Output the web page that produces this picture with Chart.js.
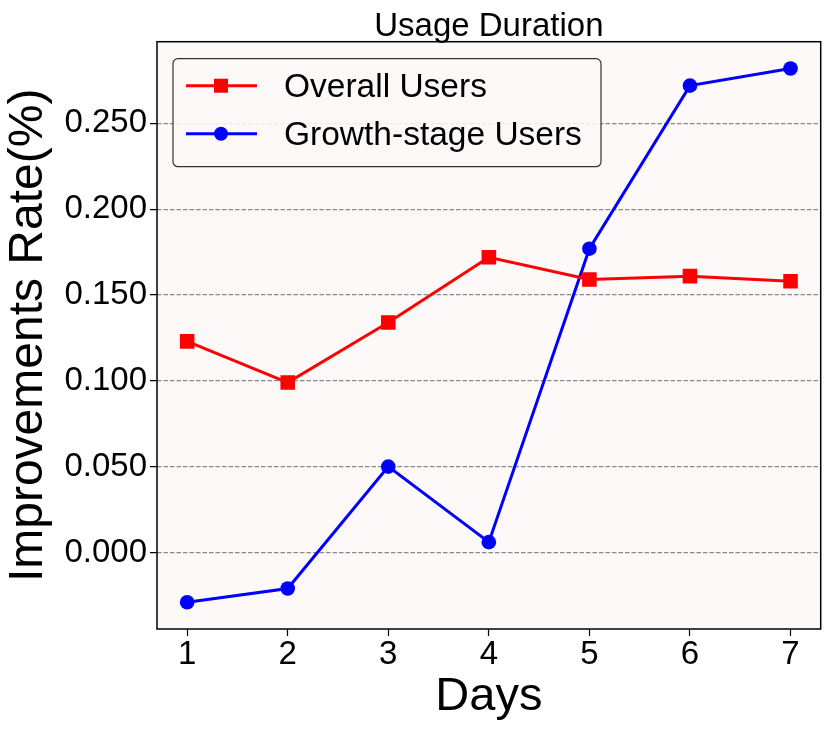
<!DOCTYPE html>
<html>
<head>
<meta charset="utf-8">
<script src="https://cdn.jsdelivr.net/npm/chart.js@4.4.0/dist/chart.umd.min.js"></script>
<style>
html,body{margin:0;padding:0;background:#fff;}
#wrap{width:831px;height:731px;}
</style>
</head>
<body>
<div id="wrap"><canvas id="c" width="831" height="731"></canvas></div>
<script>
const days = [1, 2, 3, 4, 5, 6, 7];
const overallUsers = [0.123, 0.099, 0.134, 0.172, 0.159, 0.161, 0.158];
const growthUsers = [-0.029, -0.021, 0.050, 0.006, 0.177, 0.272, 0.282];
const yTicks = [0.000, 0.050, 0.100, 0.150, 0.200, 0.250];
const xTicks = [1, 2, 3, 4, 5, 6, 7];
const seriesNames = ['Overall Users', 'Growth-stage Users'];
const chartTitle = 'Usage Duration';
const xTitle = 'Days';
const yTitle = 'Improvements Rate(%)';

const FONT = "'Liberation Sans', Arial, sans-serif";

const plotBg = {
  id: 'plotBg',
  beforeDraw(chart) {
    const {ctx, chartArea: a} = chart;
    ctx.save();
    ctx.fillStyle = '#fdf9f8';
    ctx.fillRect(a.left, a.top, a.right - a.left, a.bottom - a.top);
    ctx.restore();
  },
  afterDatasetsDraw(chart) {
    const {ctx, chartArea: a} = chart;
    ctx.save();
    ctx.strokeStyle = '#000';
    ctx.lineWidth = 1.5;
    ctx.strokeRect(a.left, a.top, a.right - a.left, a.bottom - a.top);
    // legend
    const x0 = a.left + 16, y0 = a.top + 17, w = 428, h = 108;
    ctx.fillStyle = 'rgba(253,249,248,0.85)';
    ctx.strokeStyle = '#333';
    ctx.lineWidth = 1.2;
    ctx.beginPath();
    ctx.roundRect(x0, y0, w, h, 5);
    ctx.fill();
    ctx.stroke();
    const rows = [y0 + 27, y0 + 75];
    chart.data.datasets.forEach((ds, i) => {
      const y = rows[i];
      ctx.strokeStyle = ds.borderColor;
      ctx.lineWidth = 3;
      ctx.beginPath();
      ctx.moveTo(x0 + 13, y);
      ctx.lineTo(x0 + 84, y);
      ctx.stroke();
      ctx.fillStyle = ds.backgroundColor;
      if (ds.pointStyle === 'rect') {
        ctx.fillRect(x0 + 48 - 7, y - 7, 14, 14);
      } else {
        ctx.beginPath();
        ctx.arc(x0 + 48, y, 7, 0, Math.PI * 2);
        ctx.fill();
      }
      ctx.fillStyle = '#000';
      ctx.font = '33.5px ' + FONT;
      ctx.textBaseline = 'middle';
      ctx.textAlign = 'left';
      ctx.fillText(ds.label, x0 + 111, y + 2);
    });
    ctx.restore();
  }
};

new Chart(document.getElementById('c'), {
  type: 'line',
  data: {
    datasets: [
      {
        label: seriesNames[0],
        data: days.map((d, i) => ({x: d, y: overallUsers[i]})),
        borderColor: '#ff0000',
        backgroundColor: '#ff0000',
        pointStyle: 'rect',
        pointRadius: 10.3,
        pointHoverRadius: 10.3,
        borderWidth: 3,
        pointBorderWidth: 0,
        tension: 0
      },
      {
        label: seriesNames[1],
        data: days.map((d, i) => ({x: d, y: growthUsers[i]})),
        borderColor: '#0000ff',
        backgroundColor: '#0000ff',
        pointStyle: 'circle',
        pointRadius: 7.3,
        pointHoverRadius: 7.3,
        borderWidth: 3,
        pointBorderWidth: 0,
        tension: 0
      }
    ]
  },
  options: {
    responsive: false,
    animation: false,
    devicePixelRatio: 1,
    layout: {padding: {left: 0, right: 9, top: 0, bottom: 0}},
    plugins: {
      legend: {display: false},
      tooltip: {enabled: false},
      title: {
        display: true,
        fullSize: false,
        text: chartTitle,
        color: '#000',
        font: {family: FONT, size: 33, weight: 'normal', lineHeight: 0.87},
        padding: {top: 13, bottom: 0}
      }
    },
    scales: {
      x: {
        type: 'linear',
        min: 0.7,
        max: 7.3,
        afterBuildTicks: s => { s.ticks = xTicks.map(v => ({value: v})); },
        afterFit: s => { s.height = 102; },
        ticks: {color: '#000', font: {family: FONT, size: 33}, padding: -1, maxRotation: 0, autoSkip: false},
        grid: {display: true, drawOnChartArea: false, drawTicks: true, tickLength: 7, tickColor: '#000', tickWidth: 1.2},
        border: {display: false},
        title: {display: true, text: xTitle, color: '#000', font: {family: FONT, size: 47}, padding: {top: 0, bottom: 6}}
      },
      y: {
        type: 'linear',
        min: -0.0446,
        max: 0.2976,
        afterBuildTicks: s => { s.ticks = yTicks.map(v => ({value: v})); },
        afterFit: s => { s.width = 157; },
        ticks: {color: '#000', font: {family: FONT, size: 33}, padding: 3, callback: v => Number(v).toFixed(3)},
        grid: {display: true, drawOnChartArea: true, drawTicks: true, tickLength: 7, color: '#8a8a8a', lineWidth: 1.2, tickColor: '#000', tickWidth: 1.2, tickBorderDash: [1, 0]},
        border: {display: false, dash: [4.5, 2]},
        title: {display: true, text: yTitle, color: '#000', font: {family: FONT, size: 48}, padding: {top: 0, bottom: 0}}
      }
    }
  },
  plugins: [plotBg]
});
</script>
</body>
</html>
